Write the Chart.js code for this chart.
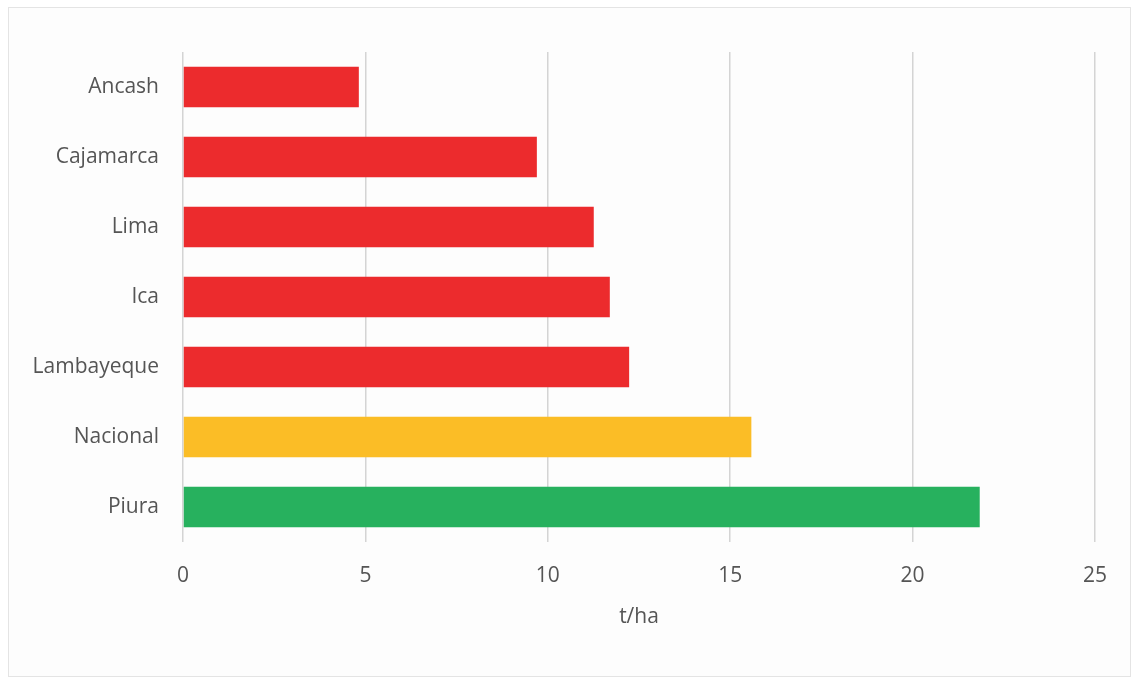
<!DOCTYPE html>
<html lang="es">
<head>
    <meta charset="UTF-8">
    <title>Rendimiento t/ha</title>
    <script src="https://cdn.jsdelivr.net/npm/chart.js"></script>
    <style>
        body {
            margin: 0;
            background-color: #ffffff;
            font-family: "Open Sans", sans-serif;
        }
        .frame {
            position: absolute;
            left: 8px;
            top: 7px;
            width: 1121px;
            height: 668px;
            border: 1px solid #e4e4e4;
            background-color: #fdfdfd;
        }
        .wrap {
            position: absolute;
            left: 0;
            top: 0;
            width: 1138px;
            height: 682px;
        }
    </style>
</head>
<body>
    <div class="frame"></div>
    <div class="wrap">
        <canvas id="chart" width="1138" height="682"></canvas>
    </div>

    <script>
        const regiones = ['Ancash', 'Cajamarca', 'Lima', 'Ica', 'Lambayeque', 'Nacional', 'Piura'];
        const rendimiento = [4.82, 9.70, 11.26, 11.70, 12.23, 15.58, 21.84];
        const colores = ['#ec2b2d', '#ec2b2d', '#ec2b2d', '#ec2b2d', '#ec2b2d', '#fbbd26', '#27b15e'];
        const ticksX = [0, 5, 10, 15, 20, 25];

        const ctx = document.getElementById('chart').getContext('2d');
        new Chart(ctx, {
            type: 'bar',
            data: {
                labels: regiones,
                datasets: [{
                    data: rendimiento,
                    backgroundColor: colores,
                    borderWidth: 0,
                    categoryPercentage: 1,
                    barPercentage: 0.58
                }]
            },
            options: {
                indexAxis: 'y',
                responsive: false,
                animation: false,
                layout: {
                    padding: { left: 0, top: 52, right: 43, bottom: 0 }
                },
                plugins: {
                    legend: { display: false },
                    tooltip: { enabled: false }
                },
                scales: {
                    x: {
                        min: 0,
                        max: 25,
                        afterBuildTicks: scale => {
                            scale.ticks = ticksX.map(v => ({ value: v }));
                        },
                        afterFit: scale => { scale.height = 140; },
                        border: { display: false },
                        grid: {
                            color: '#d4d4d4',
                            lineWidth: 1.5,
                            drawTicks: false
                        },
                        ticks: {
                            padding: 21,
                            color: '#555555',
                            font: { family: 'Open Sans', size: 21 }
                        },
                        title: {
                            display: true,
                            text: 't/ha',
                            color: '#555555',
                            padding: { top: 10, bottom: 52 },
                            font: { family: 'Open Sans', size: 21 }
                        }
                    },
                    y: {
                        afterFit: scale => { scale.width = 183; },
                        border: { display: false },
                        grid: { display: false, drawTicks: false },
                        ticks: {
                            padding: 24,
                            color: '#555555',
                            font: { family: 'Open Sans', size: 21 }
                        }
                    }
                }
            }
        });
    </script>
</body>
</html>
